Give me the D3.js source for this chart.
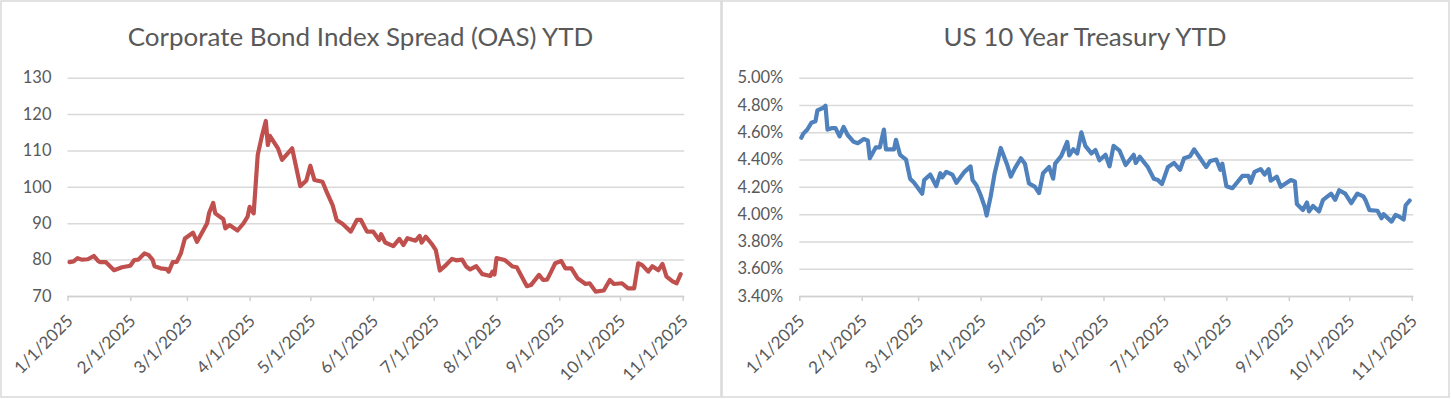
<!DOCTYPE html>
<html>
<head>
<meta charset="utf-8">
<script src="https://cdn.jsdelivr.net/npm/d3@7"></script>
<style>
  html, body { margin: 0; padding: 0; background: #fff; }
  svg { display: block; }
  text { font-family: Lato, "Open Sans", sans-serif; fill: #595959; }
</style>
</head>
<body>
<svg id="chart" width="1451" height="399"></svg>
<script>
// ---------- DATA ----------
const oasDates = ["2025-01-02","2025-01-04","2025-01-06","2025-01-08","2025-01-11","2025-01-14","2025-01-16","2025-01-17","2025-01-20","2025-01-24","2025-01-28",
"2025-02-01","2025-02-03","2025-02-05","2025-02-08","2025-02-10","2025-02-12","2025-02-13","2025-02-16","2025-02-19","2025-02-20","2025-02-22","2025-02-24","2025-02-26","2025-02-28",
"2025-03-04","2025-03-06","2025-03-11","2025-03-12","2025-03-14","2025-03-15","2025-03-19","2025-03-20","2025-03-22","2025-03-26","2025-03-29","2025-03-31",
"2025-04-01","2025-04-03","2025-04-05","2025-04-07","2025-04-09","2025-04-10","2025-04-11","2025-04-15","2025-04-17","2025-04-22","2025-04-26","2025-04-29",
"2025-05-01","2025-05-03","2025-05-07","2025-05-09","2025-05-12","2025-05-14","2025-05-17","2025-05-21","2025-05-24","2025-05-26","2025-05-29",
"2025-06-01","2025-06-04","2025-06-05","2025-06-07","2025-06-11","2025-06-14","2025-06-16","2025-06-18","2025-06-22","2025-06-24","2025-06-25","2025-06-27","2025-06-30",
"2025-07-02","2025-07-04","2025-07-07","2025-07-10","2025-07-12","2025-07-15","2025-07-17","2025-07-19","2025-07-22","2025-07-25","2025-07-29","2025-07-30","2025-07-31",
"2025-08-01","2025-08-05","2025-08-09","2025-08-11","2025-08-16","2025-08-18","2025-08-22","2025-08-24","2025-08-26","2025-08-28","2025-08-30",
"2025-09-02","2025-09-04","2025-09-07","2025-09-10","2025-09-14","2025-09-16","2025-09-19","2025-09-23","2025-09-26","2025-09-28",
"2025-10-02","2025-10-05","2025-10-08","2025-10-10","2025-10-12","2025-10-15","2025-10-17","2025-10-20","2025-10-22","2025-10-24","2025-10-27","2025-10-29","2025-10-31"];
const oasValues = [79.3,79.5,80.4,80.0,80.1,81.0,79.7,79.3,79.3,77.1,77.9,
78.3,79.9,80.0,81.7,81.3,80.0,78.2,77.6,77.4,76.7,79.3,79.4,81.7,85.8,
87.4,84.9,90.0,92.9,95.6,92.7,91.1,88.6,89.5,88.0,90.0,91.8,
94.5,92.7,108.8,113.8,118.1,111.5,114.0,110.6,107.4,110.6,100.2,101.7,
105.8,101.9,101.4,98.7,95.0,90.9,89.8,87.7,90.9,90.9,87.7,
87.7,85.4,87.0,84.7,83.7,85.7,84.0,85.9,85.2,86.5,84.7,86.3,84.3,
82.6,77.0,78.5,80.2,79.8,80.0,78.1,77.3,78.2,76.0,75.5,76.7,75.9,
80.4,79.9,78.1,77.9,72.7,73.0,75.8,74.4,74.5,76.7,79.0,
79.6,77.6,77.6,74.9,73.3,73.5,71.2,71.5,74.4,73.3,
73.5,72.1,72.1,79.0,78.5,76.7,78.2,77.1,78.8,75.3,74.0,73.5,76.0];

const tsyDates = ["2025-01-02","2025-01-03","2025-01-05","2025-01-07","2025-01-09","2025-01-10","2025-01-13","2025-01-14","2025-01-15","2025-01-17","2025-01-19","2025-01-21","2025-01-23","2025-01-25","2025-01-28","2025-01-30",
"2025-02-02","2025-02-04","2025-02-05","2025-02-08","2025-02-10","2025-02-12","2025-02-13","2025-02-17","2025-02-18","2025-02-20","2025-02-23","2025-02-25","2025-02-27",
"2025-03-03","2025-03-04","2025-03-07","2025-03-10","2025-03-12","2025-03-13","2025-03-15","2025-03-18","2025-03-20","2025-03-24","2025-03-27","2025-03-28","2025-03-30",
"2025-04-01","2025-04-03","2025-04-04","2025-04-06","2025-04-08","2025-04-11","2025-04-14","2025-04-16","2025-04-18","2025-04-21","2025-04-23","2025-04-25","2025-04-28","2025-04-30",
"2025-05-02","2025-05-05","2025-05-07","2025-05-08","2025-05-11","2025-05-14","2025-05-15","2025-05-17","2025-05-19","2025-05-21","2025-05-23","2025-05-26","2025-05-28","2025-05-30",
"2025-06-02","2025-06-04","2025-06-06","2025-06-09","2025-06-12","2025-06-16","2025-06-17","2025-06-19","2025-06-23","2025-06-26","2025-06-28","2025-06-30",
"2025-07-03","2025-07-06","2025-07-09","2025-07-11","2025-07-14","2025-07-16","2025-07-19","2025-07-22","2025-07-24","2025-07-27","2025-07-29","2025-07-30",
"2025-08-01","2025-08-04","2025-08-09","2025-08-12","2025-08-13","2025-08-15","2025-08-18","2025-08-20","2025-08-22","2025-08-23","2025-08-26","2025-08-28",
"2025-09-02","2025-09-04","2025-09-05","2025-09-08","2025-09-10","2025-09-11","2025-09-13","2025-09-16","2025-09-18","2025-09-22","2025-09-24","2025-09-26","2025-09-29",
"2025-10-02","2025-10-05","2025-10-08","2025-10-09","2025-10-11","2025-10-15","2025-10-17","2025-10-18","2025-10-22","2025-10-24","2025-10-26","2025-10-28","2025-10-29","2025-10-31"];
const tsyValues = [4.56,4.59,4.62,4.67,4.68,4.76,4.78,4.795,4.62,4.63,4.63,4.57,4.64,4.58,4.53,4.52,
4.55,4.54,4.41,4.49,4.49,4.62,4.475,4.475,4.545,4.435,4.40,4.26,4.23,
4.15,4.25,4.29,4.205,4.30,4.27,4.31,4.29,4.23,4.31,4.35,4.25,4.21,
4.14,4.055,3.99,4.13,4.30,4.485,4.37,4.275,4.335,4.41,4.37,4.225,4.20,4.155,
4.30,4.345,4.26,4.37,4.425,4.53,4.43,4.475,4.445,4.60,4.50,4.445,4.47,4.395,
4.435,4.35,4.50,4.465,4.36,4.435,4.375,4.42,4.345,4.26,4.25,4.22,
4.345,4.375,4.325,4.41,4.425,4.475,4.41,4.345,4.39,4.40,4.325,4.37,
4.205,4.19,4.28,4.28,4.23,4.31,4.33,4.29,4.33,4.245,4.275,4.20,
4.25,4.24,4.075,4.03,4.085,4.02,4.06,4.02,4.105,4.15,4.105,4.175,4.15,
4.08,4.15,4.13,4.105,4.03,4.025,3.97,4.00,3.945,3.995,3.98,3.96,4.065,4.10];

const oasTicks = [70,80,90,100,110,120,130];
const tsyTicks = [3.4,3.6,3.8,4.0,4.2,4.4,4.6,4.8,5.0];
const xStart = "2025-01-01", xEnd = "2025-11-01";
const titles = ["Corporate Bond Index Spread (OAS) YTD", "US 10 Year Treasury YTD"];

// ---------- DRAW ----------
const parse = d3.utcParse("%Y-%m-%d");
const svg = d3.select("#chart");
svg.append("rect").attr("width",1451).attr("height",399).attr("fill","#fff");

const panels = [
  {x0:0, w:721, left:67.5, right:682.7, dates:oasDates, values:oasValues, ticks:oasTicks,
   fmt:d => String(d), color:"#C0504D", title:titles[0]},
  {x0:721, w:728, left:799.3, right:1411.7, dates:tsyDates, values:tsyValues, ticks:tsyTicks,
   fmt:d => d3.format(".2f")(d) + "%", color:"#4F81BD", title:titles[1]}
];

const plotTop = 77.7, plotBottom = 296;
const monthFmt = d3.utcFormat("%-m/%-d/%Y");

// title font sizing: fit first title to measured width
const probe = svg.append("text").attr("font-size",100).text(titles[0]);
const titleSize = 100 * 466 / probe.node().getComputedTextLength();
probe.remove();

panels.forEach(p => {
  const g = svg.append("g");
  g.append("rect").attr("x", p.x0 + 1).attr("y", 1).attr("width", p.w - 1).attr("height", 396)
    .attr("fill","none").attr("stroke","#d9d9d9").attr("stroke-width",1.5);

  g.append("text").attr("x", p.x0 + p.w/2).attr("y", 46).attr("text-anchor","middle")
    .attr("font-size", titleSize).text(p.title);

  const x = d3.scaleUtc().domain([parse(xStart), parse(xEnd)]).range([p.left, p.right]);
  const y = d3.scaleLinear().domain([p.ticks[0], p.ticks[p.ticks.length-1]]).range([plotBottom, plotTop]);

  // gridlines + y labels
  const yAxis = d3.axisLeft(y).tickValues(p.ticks).tickFormat(p.fmt)
    .tickSize(-(p.right - p.left + 1.5)).tickPadding(16);
  const ya = g.append("g").attr("transform", `translate(${p.left},0)`).call(yAxis);
  ya.select(".domain").remove();
  ya.selectAll(".tick line").attr("stroke","#d9d9d9").attr("stroke-width",1.5);
  ya.selectAll(".tick text").attr("font-size",16.5).attr("font-family","Lato, 'Open Sans', sans-serif")
    .attr("fill","#595959");

  // x axis
  const months = d3.utcMonth.range(parse(xStart), d3.utcDay.offset(parse(xEnd),1));
  const xAxis = d3.axisBottom(x).tickValues(months).tickFormat(monthFmt).tickSize(5).tickSizeOuter(0);
  const xa = g.append("g").attr("transform", `translate(0,${plotBottom})`).call(xAxis);
  xa.select(".domain").attr("stroke","#d0d0d0").attr("stroke-width",1.5)
    .attr("d", `M${p.left},0.5H${p.right + 1.5}`);
  xa.selectAll(".tick line").attr("stroke","#d0d0d0").attr("stroke-width",1.5);
  xa.selectAll(".tick text").attr("font-size",17).attr("font-family","Lato, 'Open Sans', sans-serif")
    .attr("fill","#595959").attr("text-anchor","end").attr("y",0).attr("dy",0)
    .attr("transform","translate(6,26) rotate(-45)");

  // line
  const pts = p.dates.map((d,i) => [parse(d), p.values[i]]);
  const line = d3.line().x(d => x(d[0])).y(d => y(d[1]));
  g.append("path").datum(pts).attr("d", line).attr("fill","none")
    .attr("stroke", p.color).attr("stroke-width",4.2)
    .attr("stroke-linejoin","round").attr("stroke-linecap","round");
});
</script>
</body>
</html>
